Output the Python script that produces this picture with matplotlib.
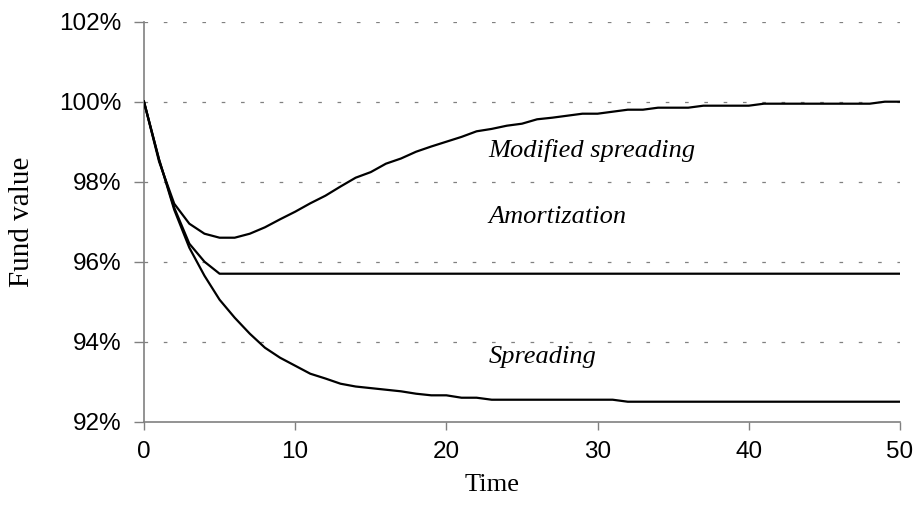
import matplotlib
matplotlib.use("Agg")
import matplotlib.pyplot as plt
from matplotlib.ticker import FuncFormatter

# data (fund value in %, yearly steps)
time = list(range(0, 51))

spreading = [100.0, 98.55, 97.3, 96.35, 95.65, 95.05, 94.6, 94.2, 93.85, 93.6,
             93.4, 93.2, 93.08, 92.95, 92.88, 92.84, 92.8, 92.76, 92.7, 92.66,
             92.66, 92.6, 92.6, 92.55, 92.55, 92.55, 92.55, 92.55, 92.55, 92.55,
             92.55, 92.55, 92.5, 92.5, 92.5, 92.5, 92.5, 92.5, 92.5, 92.5,
             92.5, 92.5, 92.5, 92.5, 92.5, 92.5, 92.5, 92.5, 92.5, 92.5, 92.5]

amortization = [100.0, 98.55, 97.35, 96.45, 96.0] + [95.7] * 46

modified = [100.0, 98.5, 97.45, 96.95, 96.7, 96.6, 96.6, 96.7, 96.86, 97.06,
            97.25, 97.46, 97.65, 97.88, 98.1, 98.24, 98.45, 98.58, 98.75, 98.88,
            99.0, 99.12, 99.26, 99.32, 99.4, 99.45, 99.56, 99.6, 99.65, 99.7,
            99.7, 99.75, 99.8, 99.8, 99.85, 99.85, 99.85, 99.9, 99.9, 99.9,
            99.9, 99.95, 99.95, 99.95, 99.95, 99.95, 99.95, 99.95, 99.95, 100.0, 100.0]

labels = ["Modified spreading", "Amortization", "Spreading"]
label_x = [22.8, 22.8, 22.8]
label_y = [98.78, 97.12, 93.62]

plt.rcParams["lines.scale_dashes"] = False

fig = plt.figure(figsize=(9.2, 5.29), dpi=100)
ax = fig.add_axes([0.1565, 0.2028, 0.8217, 0.7562])

for y in [94, 96, 98, 100, 102]:
    ax.axhline(y, color="#808080", lw=0.9, linestyle=(0, (2.6, 11.3)), zorder=1)

ax.plot(time, spreading, color="black", lw=1.6, zorder=3)
ax.plot(time, amortization, color="black", lw=1.6, zorder=3)
ax.plot(time, modified, color="black", lw=1.6, zorder=3)

for txt, x, y in zip(labels, label_x, label_y):
    ax.text(x, y, txt, family="Liberation Serif", style="italic", fontsize=19,
            ha="left", va="center")

ax.set_xlim(0, 50)
ax.set_ylim(92, 102)
ax.set_xticks([0, 10, 20, 30, 40, 50])
ax.set_yticks([92, 94, 96, 98, 100, 102])
ax.yaxis.set_major_formatter(FuncFormatter(lambda v, p: f"{v:.0f}%"))

for s in ["top", "right"]:
    ax.spines[s].set_visible(False)
ax.spines["left"].set_color("#808080")
ax.spines["bottom"].set_color("#808080")
ax.spines["left"].set_linewidth(1.2)
ax.spines["bottom"].set_linewidth(1.2)

ax.tick_params(axis="y", direction="out", length=7, width=1, color="#808080",
               pad=9, labelsize=17.5)
ax.tick_params(axis="x", direction="out", length=6, width=1, color="#808080",
               pad=8, labelsize=17.5)
for lab in ax.get_xticklabels() + ax.get_yticklabels():
    lab.set_family("Liberation Sans")

ax.set_xlabel("Time", family="Liberation Serif", fontsize=19)
ax.set_ylabel("Fund value", family="Liberation Serif", fontsize=21)
ax.xaxis.set_label_coords(0.46, -0.158)
ax.xaxis.label.set_va("center")
ax.yaxis.set_label_coords(-0.161, 0.5)
ax.yaxis.label.set_va("center")

fig.savefig("out.png", dpi=100, facecolor="white")
